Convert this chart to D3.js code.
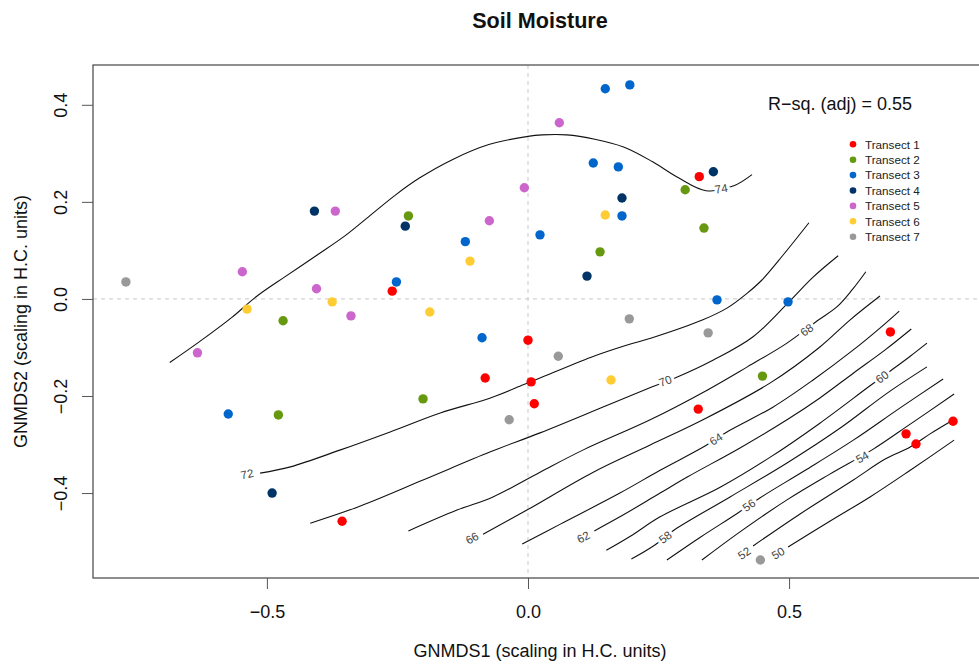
<!DOCTYPE html>
<html>
<head>
<meta charset="utf-8">
<script src="https://cdn.jsdelivr.net/npm/d3@7"></script>
<style>
  body { margin: 0; background: #fff; }
  svg { display: block; font-family: "Liberation Sans", Arial, sans-serif; }
</style>
</head>
<body>
<svg width="979" height="669"></svg>
<script>
// site scores per transect, [GNMDS1, GNMDS2]
const transect1 = [[-0.260,0.016],[0.000,-0.085],[-0.082,-0.163],[0.006,-0.171],[0.012,-0.216],[-0.356,-0.458],[0.328,0.252],[0.326,-0.227],[0.694,-0.068],[0.814,-0.252],[0.724,-0.278],[0.743,-0.299]];
const transect2 = [[-0.229,0.171],[-0.469,-0.045],[-0.201,-0.206],[-0.478,-0.239],[0.301,0.225],[0.337,0.146],[0.138,0.097],[0.449,-0.159]];
const transect3 = [[-0.252,0.035],[-0.120,0.118],[0.023,0.132],[-0.088,-0.080],[-0.574,-0.237],[0.148,0.433],[0.195,0.441],[0.125,0.280],[0.173,0.272],[0.180,0.171],[0.362,-0.002],[0.498,-0.006]];
const transect4 = [[-0.409,0.181],[-0.235,0.150],[-0.490,-0.400],[0.355,0.262],[0.180,0.208],[0.113,0.047]];
const transect5 = [[-0.547,0.056],[-0.369,0.181],[-0.074,0.161],[-0.007,0.229],[-0.405,0.021],[-0.339,-0.035],[-0.633,-0.111],[0.060,0.363]];
const transect6 = [[-0.111,0.078],[-0.375,-0.006],[-0.538,-0.021],[-0.188,-0.027],[0.148,0.173],[0.159,-0.167]];
const transect7 = [[-0.770,0.035],[-0.036,-0.249],[0.194,-0.041],[0.345,-0.070],[0.058,-0.118],[0.445,-0.538]];

const transectNames = ["Transect 1","Transect 2","Transect 3","Transect 4","Transect 5","Transect 6","Transect 7"];
const transectColors = ["#ff0000","#66990f","#0066cc","#003366","#cc66cc","#ffcc33","#999999"];
const transects = [transect1, transect2, transect3, transect4, transect5, transect6, transect7];

// fitted surface (soil moisture) contour lines
const contourLevels = [74, 72, 70, 68, 66, 64, 62, 60, 58, 56, 54, 52, 50];
const c74 = [[-0.686,-0.131],[-0.629,-0.088],[-0.567,-0.038],[-0.520,0.005],[-0.465,0.046],[-0.403,0.091],[-0.348,0.132],[-0.309,0.166],[-0.254,0.214],[-0.208,0.249],[-0.145,0.287],[-0.075,0.318],[0.000,0.335],[0.027,0.338],[0.074,0.338],[0.128,0.329],[0.183,0.313],[0.238,0.283],[0.289,0.249],[0.341,0.223],[0.394,0.233],[0.429,0.256]];
const c72 = [[-0.513,-0.359],[-0.455,-0.346],[-0.359,-0.311],[-0.264,-0.274],[-0.168,-0.235],[-0.072,-0.204],[-0.009,-0.177],[0.023,-0.163],[0.121,-0.120],[0.190,-0.095],[0.238,-0.080],[0.335,-0.043],[0.381,-0.019],[0.420,0.012],[0.448,0.039],[0.489,0.091],[0.538,0.157]];
const c70 = [[-0.417,-0.462],[-0.327,-0.429],[-0.201,-0.373],[-0.072,-0.315],[0.023,-0.276],[0.152,-0.219],[0.238,-0.181],[0.286,-0.161],[0.355,-0.126],[0.431,-0.078],[0.498,-0.008],[0.546,0.045],[0.594,0.089]];
const c68 = [[-0.229,-0.478],[-0.136,-0.435],[-0.067,-0.408],[0.023,-0.357],[0.106,-0.311],[0.234,-0.249],[0.343,-0.188],[0.420,-0.140],[0.496,-0.091],[0.554,-0.045],[0.592,-0.016],[0.621,0.019],[0.647,0.056]];
const c66 = [[-0.086,-0.485],[-0.002,-0.435],[0.125,-0.357],[0.234,-0.301],[0.335,-0.249],[0.464,-0.173],[0.559,-0.099],[0.617,-0.043],[0.674,0.006]];
const c64 = [[-0.011,-0.505],[0.062,-0.464],[0.176,-0.400],[0.253,-0.353],[0.339,-0.303],[0.381,-0.274],[0.469,-0.223],[0.546,-0.167],[0.623,-0.105],[0.674,-0.060],[0.711,-0.025]];
const c62 = [[0.127,-0.478],[0.176,-0.449],[0.253,-0.400],[0.305,-0.367],[0.406,-0.307],[0.496,-0.249],[0.559,-0.204],[0.623,-0.153],[0.684,-0.105],[0.734,-0.062]];
const c60 = [[0.150,-0.518],[0.196,-0.489],[0.253,-0.449],[0.368,-0.388],[0.464,-0.326],[0.559,-0.256],[0.655,-0.179],[0.697,-0.146],[0.732,-0.118],[0.764,-0.091]];
const c58 = [[0.198,-0.536],[0.243,-0.507],[0.280,-0.476],[0.387,-0.408],[0.496,-0.338],[0.598,-0.266],[0.688,-0.194],[0.764,-0.140]];
const c56 = [[0.266,-0.538],[0.330,-0.491],[0.402,-0.441],[0.444,-0.410],[0.531,-0.353],[0.623,-0.291],[0.712,-0.225],[0.795,-0.165]];
const c54 = [[0.333,-0.538],[0.406,-0.480],[0.496,-0.414],[0.578,-0.361],[0.659,-0.311],[0.732,-0.258],[0.816,-0.196]];
const c52 = [[0.431,-0.509],[0.521,-0.443],[0.623,-0.373],[0.684,-0.330],[0.732,-0.305],[0.770,-0.278],[0.810,-0.252]];
const c50 = [[0.498,-0.511],[0.578,-0.458],[0.655,-0.408],[0.732,-0.353],[0.816,-0.291]];
const contourLines = [c74, c72, c70, c68, c66, c64, c62, c60, c58, c56, c54, c52, c50];
const contourLabelPos = [[0.370,0.227],[-0.538,-0.361],[0.263,-0.169],[0.534,-0.064],[-0.107,-0.493],[0.360,-0.289],[0.106,-0.491],[0.678,-0.161],[0.263,-0.491],[0.423,-0.425],[0.640,-0.326],[0.414,-0.524],[0.479,-0.524]];

const xTicks = [-0.5, 0, 0.5];
const yTicks = [-0.4, -0.2, 0, 0.2, 0.4];
const rsqText = "R\u2212sq. (adj) = 0.55";

// plot region
const margin = { top: 65, right: -8, bottom: 91, left: 93 };
const W = 979, H = 669;
const svg = d3.select("svg");

const x = d3.scaleLinear().domain([-0.833, 0.879]).range([margin.left, W - margin.right]);
const y = d3.scaleLinear().domain([-0.575, 0.482]).range([H - margin.bottom, margin.top]);

const fmt = d3.format(".1f");

// dashed zero lines
svg.append("line")
  .attr("x1", x(0)).attr("x2", x(0))
  .attr("y1", y.range()[1]).attr("y2", y.range()[0])
  .attr("stroke", "#c8c8c8").attr("stroke-dasharray", "4,4");
svg.append("line")
  .attr("x1", x.range()[0]).attr("x2", x.range()[1])
  .attr("y1", y(0)).attr("y2", y(0))
  .attr("stroke", "#c8c8c8").attr("stroke-dasharray", "4,4");

// contour lines
const line = d3.line()
  .x((d) => x(d[0]))
  .y((d) => y(d[1]))
  .curve(d3.curveCatmullRom.alpha(0.5));
const cg = svg.append("g");
contourLines.forEach((pts) => {
  cg.append("path").attr("d", line(pts))
    .attr("fill", "none").attr("stroke", "#111").attr("stroke-width", 1.1);
});

// contour labels, turned along the nearest segment
contourLabelPos.forEach((p, i) => {
  const pts = contourLines[i].map((d) => [x(d[0]), y(d[1])]);
  const lx = x(p[0]), ly = y(p[1]);
  let best = 0, bestD = Infinity;
  for (let k = 0; k < pts.length - 1; k++) {
    const mx = (pts[k][0] + pts[k + 1][0]) / 2, my = (pts[k][1] + pts[k + 1][1]) / 2;
    const dd = (mx - lx) ** 2 + (my - ly) ** 2;
    if (dd < bestD) { bestD = dd; best = k; }
  }
  const a = Math.atan2(pts[best + 1][1] - pts[best][1], pts[best + 1][0] - pts[best][0]) * 180 / Math.PI;
  cg.append("text")
    .attr("transform", `translate(${lx},${ly}) rotate(${a})`)
    .attr("text-anchor", "middle")
    .attr("dy", "0.35em")
    .attr("font-size", 11.5)
    .attr("fill", "#444")
    .attr("stroke", "#fff").attr("stroke-width", 6)
    .attr("stroke-linejoin", "round")
    .attr("paint-order", "stroke")
    .text(contourLevels[i]);
});

// points
transects.forEach((pts, i) => {
  svg.append("g").selectAll("circle")
    .data(pts)
    .enter()
    .append("circle")
    .attr("cx", (d) => x(d[0]))
    .attr("cy", (d) => y(d[1]))
    .attr("r", 4.7)
    .attr("fill", transectColors[i]);
});

// frame
svg.append("rect")
  .attr("x", x.range()[0]).attr("y", y.range()[1])
  .attr("width", x.range()[1] - x.range()[0])
  .attr("height", y.range()[0] - y.range()[1])
  .attr("fill", "none").attr("stroke", "#444").attr("stroke-width", 1.2);

// axes
const xAxis = svg.append("g")
  .attr("transform", "translate(0," + y.range()[0] + ")")
  .call(d3.axisBottom(x).tickValues(xTicks).tickFormat(fmt).tickSize(11).tickPadding(16));
const yAxis = svg.append("g")
  .attr("transform", "translate(" + x.range()[0] + ",0)")
  .call(d3.axisLeft(y).tickValues(yTicks).tickFormat(fmt).tickSize(11));
[xAxis, yAxis].forEach((g) => {
  g.select(".domain").remove();
  g.selectAll(".tick line").attr("stroke", "#555");
  g.selectAll(".tick text").attr("font-size", 18).attr("fill", "#111")
    .attr("font-family", "Liberation Sans, Arial, sans-serif");
});
yAxis.selectAll(".tick text")
  .attr("x", null).attr("dy", null)
  .attr("text-anchor", "middle")
  .attr("transform", "translate(-26.5,0) rotate(-90)");

// labels
svg.append("text")
  .attr("x", 540).attr("y", 28)
  .attr("text-anchor", "middle")
  .attr("font-size", 21.6).attr("font-weight", "bold").attr("fill", "#111")
  .text("Soil Moisture");

svg.append("text")
  .attr("x", 540).attr("y", 657)
  .attr("text-anchor", "middle")
  .attr("font-size", 18).attr("fill", "#111")
  .text("GNMDS1 (scaling in H.C. units)");

svg.append("text")
  .attr("transform", "translate(27," + (y.range()[0] + y.range()[1]) / 2 + ") rotate(-90)")
  .attr("text-anchor", "middle")
  .attr("font-size", 18).attr("fill", "#111")
  .text("GNMDS2 (scaling in H.C. units)");

svg.append("text")
  .attr("x", 768).attr("y", 109.7)
  .attr("font-size", 18).attr("fill", "#111")
  .text(rsqText);

// legend
const legend = svg.append("g").attr("transform", "translate(853,144.3)");
transectNames.forEach((name, i) => {
  legend.append("circle")
    .attr("cx", 0).attr("cy", i * 15.4).attr("r", 3.3)
    .attr("fill", transectColors[i]);
  legend.append("text")
    .attr("x", 12).attr("y", i * 15.4).attr("dy", "0.36em")
    .attr("font-size", 11.7).attr("fill", "#222")
    .text(name);
});
</script>
</body>
</html>
